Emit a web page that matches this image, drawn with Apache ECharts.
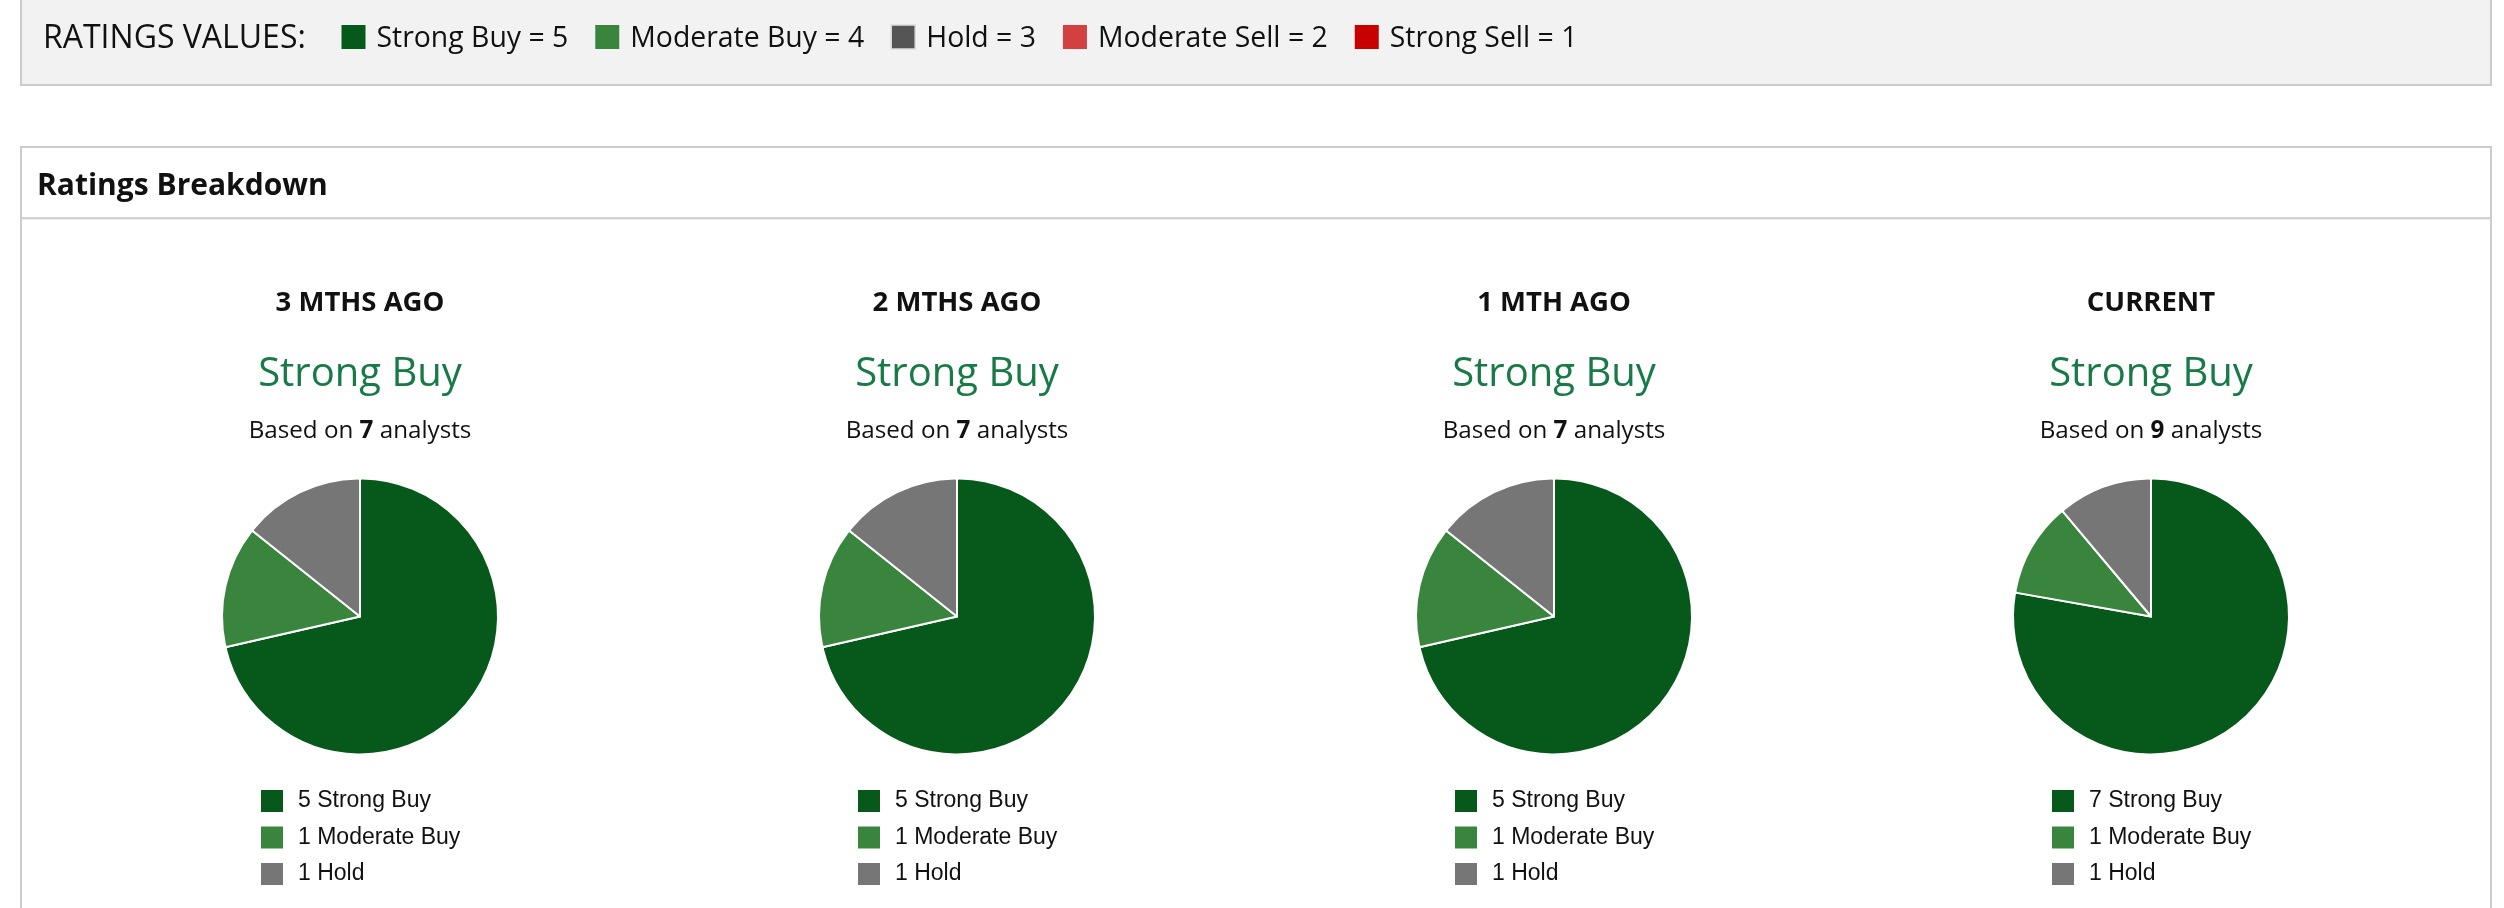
<!DOCTYPE html>
<html>
<head>
<meta charset="utf-8">
<script src="https://cdn.jsdelivr.net/npm/echarts@6/dist/echarts.min.js"></script>
<style>
html,body{margin:0;padding:0;background:#fff;}
#chart{width:2504px;height:908px;}
</style>
</head>
<body>
<div id="chart"></div>
<script>
// ---- data ----
const periods = ['3 MTHS AGO', '2 MTHS AGO', '1 MTH AGO', 'CURRENT'];
const consensus = ['Strong Buy', 'Strong Buy', 'Strong Buy', 'Strong Buy'];
const analysts = [7, 7, 7, 9];
const ratingNames = ['Strong Buy', 'Moderate Buy', 'Hold'];
const strongBuy = [5, 5, 5, 7];
const moderateBuy = [1, 1, 1, 1];
const hold = [1, 1, 1, 1];
const ratingValueLabels = ['Strong Buy = 5', 'Moderate Buy = 4', 'Hold = 3', 'Moderate Sell = 2', 'Strong Sell = 1'];

// ---- styles ----
const pieColors = ['#06591b', '#3a853e', '#767676'];
const keyColors = ['#06591b', '#3a853e', '#555555', '#d24040', '#c80000'];
const SANS = '"Open Sans", "Noto Sans", sans-serif';
const HELV = '"Liberation Sans", Arial, sans-serif';

const seriesValues = [strongBuy, moderateBuy, hold];
const colX = i => 360 + i * 597;
const pieY = 616.5;

const chart = echarts.init(document.getElementById('chart'), null, {renderer: 'canvas'});

// measure text for the key row
const mctx = document.createElement('canvas').getContext('2d');
function textW(str, font) { mctx.font = font; return mctx.measureText(str).width; }

const graphics = [];
// top key box
graphics.push({type: 'rect', shape: {x: 21, y: -10, width: 2470, height: 95},
  style: {fill: '#f2f2f2', stroke: '#cccccc', lineWidth: 2}, z: -10});
graphics.push({type: 'text', x: 43, y: 39,
  style: {text: 'RATINGS VALUES:', fontFamily: SANS, fontSize: 32, fill: '#111', align: 'left', verticalAlign: 'middle'}});
let kx = 341.5;
const KEY_FS = 28.4;
const keyFont = KEY_FS + 'px "Open Sans"';
ratingValueLabels.forEach((lab, k) => {
  graphics.push({type: 'rect', shape: {x: kx, y: 25, width: 24, height: 24},
    style: {fill: keyColors[k], stroke: k === 2 ? '#dddddd' : null, lineWidth: k === 2 ? 1.5 : 0}});
  graphics.push({type: 'text', x: kx + 35, y: 39,
    style: {text: lab, fontFamily: SANS, fontSize: KEY_FS, fill: '#111', align: 'left', verticalAlign: 'middle'}});
  kx += 35 + textW(lab, keyFont) + 27;
});

// breakdown panel
graphics.push({type: 'rect', shape: {x: 21, y: 147, width: 2470, height: 900},
  style: {fill: 'none', stroke: '#cccccc', lineWidth: 2}, z: -10});
graphics.push({type: 'line', shape: {x1: 21, y1: 218.3, x2: 2491, y2: 218.3},
  style: {stroke: '#cccccc', lineWidth: 2}, z: -10});
graphics.push({type: 'text', x: 37, y: 186,
  style: {text: 'Ratings Breakdown', fontFamily: SANS, fontSize: 30, fontWeight: 'bold', fill: '#111', align: 'left', verticalAlign: 'middle'}});

periods.forEach((p, i) => {
  const cx = colX(i);
  graphics.push({type: 'text', x: cx, y: 303.3,
    style: {text: p, fontFamily: SANS, fontSize: 27.5, fontWeight: 'bold', fill: '#111', align: 'center', verticalAlign: 'middle'}});
  graphics.push({type: 'text', x: cx, y: 374.5,
    style: {text: consensus[i], fontFamily: SANS, fontSize: 40, fill: '#187a46', align: 'center', verticalAlign: 'middle'}});
  graphics.push({type: 'text', x: cx, y: 430.7,
    style: {text: 'Based on {b|' + analysts[i] + '} analysts', fontFamily: SANS, fontSize: 24.2, fill: '#111',
      align: 'center', verticalAlign: 'middle',
      rich: {b: {fontFamily: SANS, fontSize: 24.2, fontWeight: 'bold', fill: '#111'}}}});
});

const series = periods.map((p, i) => ({
  type: 'pie',
  name: p,
  center: [colX(i), pieY],
  radius: 138,
  startAngle: 90,
  clockwise: true,
  silent: true,
  animation: false,
  label: {show: false},
  labelLine: {show: false},
  emphasis: {disabled: true},
  itemStyle: {borderColor: '#ffffff', borderWidth: 2, borderRadius: 2},
  data: ratingNames.map((n, k) => ({name: n, value: seriesValues[k][i], itemStyle: {color: pieColors[k]}}))
}));

const legends = periods.map((p, i) => ({
  orient: 'vertical',
  left: colX(i) - 99,
  top: 789.5,
  padding: 0,
  itemWidth: 22,
  itemHeight: 22,
  itemGap: 13.5,
  icon: 'rect',
  selectedMode: false,
  data: ratingNames,
  itemStyle: {borderWidth: 0},
  formatter: name => seriesValues[ratingNames.indexOf(name)][i] + ' ' + name,
  textStyle: {fontFamily: HELV, fontSize: 23, color: '#111', lineHeight: 22, padding: [0, 0, 0, 10]}
}));

chart.setOption({
  backgroundColor: '#ffffff',
  animation: false,
  graphic: graphics,
  legend: legends,
  series: series
});
</script>
</body>
</html>
